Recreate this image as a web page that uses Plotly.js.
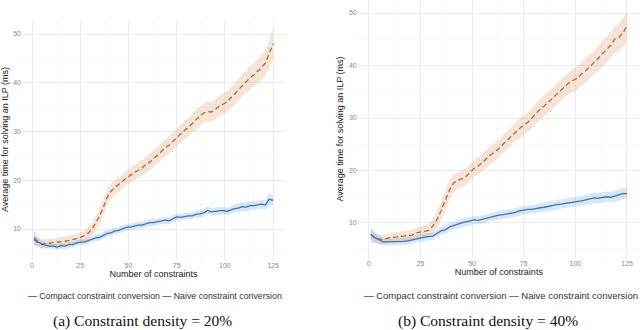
<!DOCTYPE html>
<html>
<head>
<meta charset="utf-8">
<script src="https://cdn.plot.ly/plotly-3.0.1.min.js"></script>
<style>
  html, body { margin: 0; padding: 0; background: #fff; }
  #chart { width: 640px; height: 330px; }
</style>
</head>
<body>
<div id="chart"></div>
<script>
// number of constraints (every second run)
const N_CONSTRAINTS = [
    1, 3, 5, 7, 9, 11, 13, 15, 17, 19,
    21, 23, 25, 27, 29, 31, 33, 35, 37, 39,
    41, 43, 45, 47, 49, 51, 53, 55, 57, 59,
    61, 63, 65, 67, 69, 71, 73, 75, 77, 79,
    81, 83, 85, 87, 89, 91, 93, 95, 97, 99,
    101, 103, 105, 107, 109, 111, 113, 115, 117, 119,
    121, 123, 125,
];

// (a) density 20%
const COMPACT_20 = [
    8.2, 7.4, 6.9, 6.7, 6.5, 6.5, 6.3, 6.6, 6.5, 6.8,
    6.8, 7.1, 7.3, 7.3, 7.6, 7.8, 8.2, 8.3, 8.7, 9.1,
    9.2, 9.6, 9.7, 10.1, 10.4, 10.4, 10.6, 10.8, 10.8, 11.1,
    11.3, 11.3, 11.5, 11.7, 11.8, 11.7, 12.1, 12.5, 12.4, 12.6,
    12.7, 12.7, 13.0, 13.1, 13.3, 13.8, 13.5, 13.6, 13.7, 13.8,
    13.6, 13.9, 14.2, 14.3, 14.6, 14.5, 14.8, 14.8, 14.9, 15.1,
    14.9, 16.1, 15.9,
];
const COMPACT_20_CI = [
    1.6, 1.1, 0.8, 0.7, 0.6, 0.6, 0.6, 0.6, 0.6, 0.6,
    0.6, 0.6, 0.6, 0.6, 0.6, 0.6, 0.7, 0.7, 0.7, 0.7,
    0.7, 0.7, 0.7, 0.7, 0.7, 0.7, 0.7, 0.7, 0.7, 0.7,
    0.7, 0.7, 0.7, 0.7, 0.7, 0.7, 0.7, 0.7, 0.7, 0.7,
    0.7, 0.7, 0.7, 0.8, 0.8, 0.8, 0.8, 0.8, 0.8, 0.8,
    0.8, 0.8, 0.8, 0.9, 0.9, 0.9, 0.9, 0.9, 0.9, 0.9,
    1.0, 1.3, 1.0,
];
const NAIVE_20 = [
    7.8, 7.2, 6.9, 7.0, 7.1, 7.1, 7.3, 7.4, 7.5, 7.6,
    7.8, 8.0, 8.3, 8.6, 9.1, 9.9, 11.2, 12.6, 14.5, 16.5,
    17.8, 18.5, 19.2, 19.8, 20.5, 21.0, 21.6, 22.0, 22.5, 23.2,
    23.7, 24.4, 25.2, 25.9, 26.6, 27.2, 28.0, 28.7, 29.6, 30.2,
    30.8, 31.7, 32.4, 33.1, 33.8, 34.1, 34.0, 34.5, 35.2, 35.6,
    36.0, 36.9, 37.6, 38.5, 39.4, 40.3, 41.0, 41.6, 42.3, 43.1,
    44.0, 46.0, 48.0,
];
const NAIVE_20_CI = [
    1.0, 0.9, 0.9, 0.9, 0.9, 0.9, 0.9, 0.9, 1.0, 1.0,
    1.0, 1.0, 1.0, 1.1, 1.2, 1.3, 1.5, 1.6, 1.7, 1.7,
    1.6, 1.5, 1.5, 1.5, 1.5, 1.5, 1.6, 1.6, 1.6, 1.7,
    1.7, 1.7, 1.7, 1.8, 1.8, 1.8, 1.8, 1.8, 1.9, 1.9,
    1.9, 1.9, 2.0, 2.0, 2.0, 2.0, 2.0, 2.1, 2.1, 2.1,
    2.2, 2.2, 2.2, 2.3, 2.3, 2.3, 2.4, 2.4, 2.5, 2.6,
    2.7, 2.9, 3.1,
];

// (b) density 40%
const COMPACT_40 = [
    7.8, 7.2, 6.8, 6.4, 6.4, 6.4, 6.4, 6.5, 6.5, 6.6,
    6.8, 7.0, 7.2, 7.3, 7.4, 7.5, 8.0, 8.5, 8.7, 9.2,
    9.5, 9.8, 10.0, 10.2, 10.4, 10.6, 10.5, 10.7, 10.9, 11.2,
    11.4, 11.5, 11.6, 11.7, 11.8, 12.0, 12.3, 12.5, 12.6, 12.6,
    12.8, 12.9, 13.0, 13.2, 13.3, 13.5, 13.6, 13.7, 13.9, 14.0,
    14.1, 14.2, 14.4, 14.6, 14.8, 14.7, 14.9, 15.0, 14.9, 15.1,
    15.3, 15.6, 15.6,
];
const COMPACT_40_CI = [
    1.5, 1.0, 0.8, 0.7, 0.7, 0.7, 0.7, 0.7, 0.7, 0.7,
    0.7, 0.7, 0.7, 0.7, 0.7, 0.7, 0.8, 0.8, 0.8, 0.8,
    0.8, 0.8, 0.8, 0.8, 0.8, 0.8, 0.8, 0.8, 0.8, 0.8,
    0.8, 0.8, 0.8, 0.8, 0.8, 0.8, 0.8, 0.8, 0.8, 0.8,
    0.8, 0.8, 0.9, 0.9, 0.9, 0.9, 0.9, 0.9, 0.9, 0.9,
    0.9, 0.9, 0.9, 1.0, 1.0, 1.0, 1.0, 1.0, 1.0, 1.0,
    1.1, 1.1, 1.0,
];
const NAIVE_40 = [
    7.8, 7.2, 6.9, 6.8, 7.1, 7.2, 7.3, 7.4, 7.4, 7.5,
    7.7, 8.1, 8.3, 8.4, 8.6, 9.4, 10.6, 12.3, 14.3, 16.2,
    17.6, 18.1, 18.4, 18.8, 19.6, 20.4, 20.9, 21.5, 22.3, 22.9,
    23.5, 24.2, 25.0, 25.8, 26.6, 27.4, 28.0, 28.6, 29.2, 30.0,
    30.9, 31.7, 32.3, 33.0, 33.7, 34.5, 35.3, 36.0, 36.7, 37.2,
    37.6, 38.4, 39.0, 39.8, 40.5, 41.3, 42.2, 43.0, 43.8, 45.0,
    45.3, 46.2, 47.5,
];
const NAIVE_40_CI = [
    1.0, 0.9, 0.9, 0.9, 0.9, 0.9, 0.9, 0.9, 1.0, 1.0,
    1.0, 1.0, 1.0, 1.1, 1.2, 1.4, 1.6, 1.8, 1.9, 1.8,
    1.7, 1.6, 1.6, 1.6, 1.6, 1.6, 1.6, 1.7, 1.7, 1.7,
    1.7, 1.7, 1.8, 1.8, 1.8, 1.8, 1.9, 1.9, 1.9, 1.9,
    2.0, 2.0, 2.0, 2.0, 2.0, 2.1, 2.1, 2.1, 2.1, 2.2,
    2.2, 2.2, 2.3, 2.3, 2.3, 2.4, 2.4, 2.5, 2.5, 2.6,
    2.7, 2.8, 3.0,
];

const X_TICKS = [0, 25, 50, 75, 100, 125];
const Y_TICKS = [10, 20, 30, 40, 50];

const BLUE = '#3b76b0';
const ORANGE = '#b8662e';
const BLUE_FILL = 'rgba(80,140,200,0.22)';
const ORANGE_FILL = 'rgba(214,150,105,0.25)';

const SANS = 'Liberation Sans, Arial, sans-serif';


function band(x, mean, ci, fill, xa, ya) {
    const upper = mean.map((m, i) => m + ci[i]);
    const lower = mean.map((m, i) => m - ci[i]);
    return {
        x: [...x, ...x.slice().reverse()],
        y: [...upper, ...lower.slice().reverse()],
        xaxis: xa, yaxis: ya,
        type: 'scatter', mode: 'lines',
        fill: 'toself', fillcolor: fill,
        line: { width: 0, color: 'transparent' },
        showlegend: false, hoverinfo: 'skip',
    };
}

function line(x, y, color, dash, xa, ya) {
    return {
        x, y, xaxis: xa, yaxis: ya,
        type: 'scatter', mode: 'lines',
        line: { color, width: 1.3, dash },
        showlegend: false,
    };
}

const traces = [
    band(N_CONSTRAINTS, NAIVE_20, NAIVE_20_CI, ORANGE_FILL, 'x', 'y'),
    band(N_CONSTRAINTS, COMPACT_20, COMPACT_20_CI, BLUE_FILL, 'x', 'y'),
    line(N_CONSTRAINTS, NAIVE_20, ORANGE, '5px,3px', 'x', 'y'),
    line(N_CONSTRAINTS, COMPACT_20, BLUE, 'solid', 'x', 'y'),
    band(N_CONSTRAINTS, NAIVE_40, NAIVE_40_CI, ORANGE_FILL, 'x2', 'y2'),
    band(N_CONSTRAINTS, COMPACT_40, COMPACT_40_CI, BLUE_FILL, 'x2', 'y2'),
    line(N_CONSTRAINTS, NAIVE_40, ORANGE, '5px,3px', 'x2', 'y2'),
    line(N_CONSTRAINTS, COMPACT_40, BLUE, 'solid', 'x2', 'y2'),
];

function xAxis(domain, range, anchor) {
    return {
        domain, range, anchor,
        tickvals: X_TICKS,
        ticks: '', showline: false, zeroline: false,
        gridcolor: '#ebebeb', gridwidth: 1,
        minor: { tick0: 0, dtick: 12.5, showgrid: true, gridcolor: '#f4f4f4', gridwidth: 0.6 },
        tickfont: { family: SANS, size: 7, color: '#888' },
        title: { text: 'Number of constraints', font: { family: SANS, size: 9, color: '#222' }, standoff: 2 },
    };
}

function yAxis(domain, range, anchor) {
    return {
        domain, range, anchor,
        tickvals: Y_TICKS,
        ticks: '', showline: false, zeroline: false,
        gridcolor: '#ebebeb', gridwidth: 1,
        minor: { tick0: 0, dtick: 5, showgrid: true, gridcolor: '#f4f4f4', gridwidth: 0.6 },
        tickfont: { family: SANS, size: 7, color: '#888' },
        title: { text: 'Average time for solving an ILP (ms)', font: { family: SANS, size: 9, color: '#222' }, standoff: 3 },
    };
}

function legendNote(x, y, size) {
    return {
        xref: 'paper', yref: 'paper', x, y,
        xanchor: 'center', yanchor: 'middle', showarrow: false,
        font: { family: SANS, size, color: '#333' },
        text: `<b><span style="color:${BLUE}">—</span></b> Compact constraint conversion `
            + `<b><span style="color:${ORANGE}">—</span></b> Naive constraint conversion`,
    };
}

function caption(x, y, text) {
    return {
        xref: 'paper', yref: 'paper', x, y,
        xanchor: 'center', yanchor: 'middle', showarrow: false,
        font: { family: 'Liberation Serif, Times New Roman, serif', size: 15.5, color: '#111' },
        text,
    };
}

const layout = {
    width: 640, height: 330,
    margin: { t: 0, r: 0, b: 0, l: 0 },
    paper_bgcolor: '#fff', plot_bgcolor: '#fff',
    showlegend: false,
    xaxis: xAxis([0.0344, 0.4453], [-5.2, 131.2], 'y'),
    yaxis: yAxis([0.2121, 0.9424], [3.64, 53.08], 'x'),
    xaxis2: xAxis([0.559, 1], [-5.3, 131.3], 'y2'),
    yaxis2: yAxis([0.2182, 1], [3.33, 52.48], 'x2'),
    annotations: [
        legendNote(0.242, 0.103, 8.8),
        legendNote(0.783, 0.106, 9.5),
        caption(0.222, 0.027, '(a) Constraint density = 20%'),
        caption(0.762, 0.027, '(b) Constraint density = 40%'),
    ],
};

Plotly.newPlot('chart', traces, layout, { displayModeBar: false, staticPlot: true });
</script>
</body>
</html>
